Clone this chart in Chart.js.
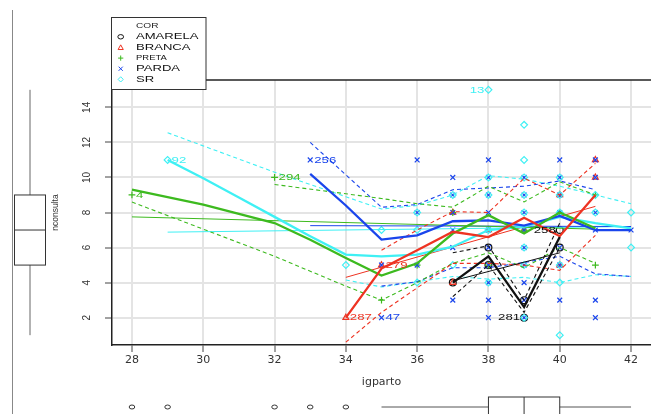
<!DOCTYPE html>
<html><head><meta charset="utf-8">
<script src="https://cdn.jsdelivr.net/npm/chart.js@4.4.1/dist/chart.umd.min.js"></script>
<style>html,body{margin:0;padding:0;background:#fff;overflow:hidden}canvas{display:block}</style>
</head><body>
<canvas id="c" width="651" height="414"></canvas>
<script>
// ---------- data ----------
const groups = ['AMARELA', 'BRANCA', 'PRETA', 'PARDA', 'SR'];
const xTicks = [28, 30, 32, 34, 36, 38, 40, 42];
const yTicks = [2, 4, 6, 8, 10, 12, 14];

// observed points (igparto, nconsulta)
const amarelaX = [37, 38, 38, 39, 39, 40, 40];
const amarelaY = [4, 5, 6, 2, 3, 6, 7];
const brancaX = [34, 35, 37, 37, 38, 39, 40, 40, 41, 41];
const brancaY = [2, 5, 8, 4, 7, 7, 9, 5, 11, 10];
const pretaX = [28, 32, 35, 36, 37, 38, 39, 40, 41, 41];
const pretaY = [9, 10, 3, 5, 8, 5, 7, 8, 9, 5];
const pardaX = [33, 35, 35, 36, 36, 36, 37, 37, 37, 37, 37, 37, 38, 38, 38, 38, 38, 38, 38, 38, 38, 38, 39, 39, 39, 39, 39, 39, 39, 39, 39, 40, 40, 40, 40, 40, 40, 40, 41, 41, 41, 41, 41, 41, 42];
const pardaY = [11, 2, 5, 11, 8, 5, 10, 9, 8, 7, 6, 3, 11, 10, 9, 8, 7, 6, 5, 4, 3, 2, 10, 9, 8, 7, 6, 5, 4, 3, 2, 11, 10, 9, 8, 6, 5, 3, 11, 10, 8, 7, 3, 2, 7];
const srX = [29, 34, 35, 36, 36, 36, 37, 37, 38, 38, 38, 38, 38, 39, 39, 39, 39, 39, 39, 39, 39, 40, 40, 40, 40, 40, 40, 41, 41, 42, 42];
const srY = [11, 5, 7, 8, 7, 4, 9, 5, 15, 10, 9, 7, 4, 13, 11, 10, 9, 8, 6, 5, 2, 10, 9, 8, 5, 4, 1, 9, 8, 8, 6];

// smooth (loess) lines
const amarelaFitX = [37, 38, 39, 40];
const amarelaFitY = [4.0, 5.5, 2.6, 6.6];
const amarelaUpX = [37, 38, 39, 40];
const amarelaUpY = [5.7, 6.1, 3.0, 7.4];
const amarelaLoX = [37, 38, 39, 40];
const amarelaLoY = [3.2, 5.0, 2.3, 6.0];
const amarelaLmX = [37, 40];
const amarelaLmY = [4.1, 5.7];

const brancaFitX = [34, 34.5, 35, 36, 37, 38, 39, 40, 41];
const brancaFitY = [2.0, 3.4, 4.8, 5.85, 6.9, 6.6, 7.7, 6.65, 9.0];
const brancaUpX = [35, 36, 37, 38, 39, 40, 41];
const brancaUpY = [5.85, 7.0, 8.05, 8.0, 9.95, 9.0, 10.8];
const brancaLoX = [34, 35, 36, 37, 38, 39, 40, 41];
const brancaLoY = [0.6, 2.3, 3.7, 5.1, 5.1, 5.0, 4.7, 6.7];
const brancaLmX = [34, 41];
const brancaLmY = [4.3, 8.35];

const pretaFitX = [28, 30, 32, 33, 34, 35, 36, 37, 38, 39, 40, 41];
const pretaFitY = [9.3, 8.45, 7.4, 6.45, 5.4, 4.4, 5.1, 6.8, 7.85, 6.8, 8.0, 7.1];
const pretaUpX = [32, 35, 36, 37, 38, 39, 40, 41];
const pretaUpY = [9.6, 8.8, 8.5, 8.3, 9.5, 8.6, 9.75, 9.0];
const pretaLoX = [28, 32, 34, 35, 36, 37, 38, 39, 40, 41];
const pretaLoY = [8.6, 5.5, 3.8, 3.0, 4.0, 5.1, 5.7, 4.85, 6.0, 5.1];
const pretaLmX = [28, 41];
const pretaLmY = [7.75, 7.05];

const pardaFitX = [33, 34, 35, 36, 37, 38, 39, 40, 41, 42];
const pardaFitY = [10.2, 8.4, 6.45, 6.7, 7.5, 7.55, 7.25, 7.8, 7.0, 7.0];
const pardaUpX = [33, 35, 36, 37, 38, 39, 40, 41];
const pardaUpY = [12.0, 8.3, 8.45, 9.3, 9.4, 9.5, 9.8, 9.3];
const pardaLoX = [35, 36, 37, 38, 39, 40, 41, 42];
const pardaLoY = [3.8, 4.05, 4.85, 4.85, 5.15, 5.5, 4.5, 4.35];
const pardaLmX = [33, 42];
const pardaLmY = [7.25, 7.2];

const srFitX = [29, 30, 31, 32, 33, 34, 35, 36, 37, 38, 39, 40, 41, 42];
const srFitY = [11.0, 9.95, 8.85, 7.75, 6.65, 5.6, 5.5, 5.6, 6.05, 7.0, 7.2, 7.75, 7.4, 7.1];
const srUpX = [29, 32, 34, 35, 36, 37, 38, 39, 40, 41, 42];
const srUpY = [12.55, 10.3, 8.9, 8.2, 8.4, 9.0, 10.1, 9.9, 9.5, 9.0, 8.5];
const srLoX = [34, 35, 36, 37, 38, 39, 40, 41, 42];
const srLoY = [4.15, 3.75, 4.05, 4.35, 4.2, 4.3, 4.0, 4.45, 4.35];
const srLmX = [29, 42];
const srLmY = [6.88, 7.2];

// identified points
const labelText = ['4', '92', '294', '256', '287', '279', '47', '13', '281', '258'];
const labelX = [28, 29, 32, 33, 34, 35, 35, 38, 39, 40];
const labelY = [9, 11, 10, 11, 2, 5, 2, 15, 2, 7];
const labelGroup = [2, 4, 2, 3, 1, 1, 3, 4, 0, 0];

// marginal boxplots: [min, q1, median, q3, max]
const ncBox = [1, 5, 7, 9, 15];
const igBox = [35, 38, 39, 40, 42];
const igOutliers = [28, 29, 32, 33, 34];

// ---------- styling ----------
const colors = ['#111111', '#ee3322', '#3dba1f', '#1a45ec', '#3ff0f4'];
const shapes = ['circle', 'triangle', 'cross', 'crossRot', 'rectRot'];
const pointSets = [[amarelaX, amarelaY], [brancaX, brancaY], [pretaX, pretaY], [pardaX, pardaY], [srX, srY]];
const fitSets = [[amarelaFitX, amarelaFitY], [brancaFitX, brancaFitY], [pretaFitX, pretaFitY], [pardaFitX, pardaFitY], [srFitX, srFitY]];
const upSets = [[amarelaUpX, amarelaUpY], [brancaUpX, brancaUpY], [pretaUpX, pretaUpY], [pardaUpX, pardaUpY], [srUpX, srUpY]];
const loSets = [[amarelaLoX, amarelaLoY], [brancaLoX, brancaLoY], [pretaLoX, pretaLoY], [pardaLoX, pardaLoY], [srLoX, srLoY]];
const lmSets = [[amarelaLmX, amarelaLmY], [brancaLmX, brancaLmY], [pretaLmX, pretaLmY], [pardaLmX, pardaLmY], [srLmX, srLmY]];

const xy = (xs, ys) => xs.map((x, i) => ({x: x, y: ys[i]}));

const datasets = [];
groups.forEach((g, i) => {
  datasets.push({type: 'scatter', label: g, data: xy(pointSets[i][0], pointSets[i][1]),
    pointStyle: shapes[i], pointRadius: 3.4, pointBorderWidth: 1.2,
    pointBorderColor: colors[i], pointBackgroundColor: 'rgba(0,0,0,0)', showLine: false, order: 20 - i});
});
groups.forEach((g, i) => {
  const base = {type: 'line', borderColor: colors[i], pointRadius: 0, fill: false, tension: 0, order: 2};
  datasets.push(Object.assign({}, base, {label: g + ' lm', data: xy(lmSets[i][0], lmSets[i][1]), borderWidth: 1}));
  datasets.push(Object.assign({}, base, {label: g + ' up', data: xy(upSets[i][0], upSets[i][1]), borderWidth: 1.1, borderDash: [4, 3]}));
  datasets.push(Object.assign({}, base, {label: g + ' lo', data: xy(loSets[i][0], loSets[i][1]), borderWidth: 1.1, borderDash: [4, 3]}));
  datasets.push(Object.assign({}, base, {label: g + ' fit', data: xy(fitSets[i][0], fitSets[i][1]), borderWidth: 2.3, order: 1}));
});

function mark(ctx, shape, px, py, r) {
  ctx.beginPath();
  if (shape === 'circle') {
    ctx.ellipse(px, py, r * 1.1, r * 0.85, 0, 0, Math.PI * 2);
  } else if (shape === 'triangle') {
    ctx.moveTo(px, py - r); ctx.lineTo(px + r, py + r * 0.8); ctx.lineTo(px - r, py + r * 0.8); ctx.closePath();
  } else if (shape === 'cross') {
    ctx.moveTo(px - r, py); ctx.lineTo(px + r, py); ctx.moveTo(px, py - r); ctx.lineTo(px, py + r);
  } else if (shape === 'crossRot') {
    ctx.moveTo(px - r * 0.8, py - r * 0.8); ctx.lineTo(px + r * 0.8, py + r * 0.8);
    ctx.moveTo(px - r * 0.8, py + r * 0.8); ctx.lineTo(px + r * 0.8, py - r * 0.8);
  } else {
    ctx.moveTo(px, py - r); ctx.lineTo(px + r, py); ctx.lineTo(px, py + r); ctx.lineTo(px - r, py); ctx.closePath();
  }
  ctx.stroke();
}

function stretchedText(ctx, text, px, py, size, align, color) {
  ctx.save();
  ctx.translate(px, py);
  ctx.scale(1.35, 1);
  ctx.font = size + 'px "Liberation Sans", Arimo, Arial, sans-serif';
  ctx.textAlign = align;
  ctx.textBaseline = 'middle';
  ctx.fillStyle = color;
  ctx.fillText(text, 0, 0);
  ctx.restore();
}

const extras = {
  id: 'extras',
  afterDraw(chart) {
    const ctx = chart.ctx;
    const a = chart.chartArea;
    const sx = chart.scales.x, sy = chart.scales.y;
    ctx.save();
    // top frame of plotting region
    ctx.strokeStyle = '#222'; ctx.lineWidth = 1.5;
    ctx.beginPath(); ctx.moveTo(a.left, a.top); ctx.lineTo(a.right, a.top); ctx.stroke();
    // outer frame line of the boxplot panel
    ctx.strokeStyle = '#888'; ctx.lineWidth = 1;
    ctx.beginPath(); ctx.moveTo(12.5, 10); ctx.lineTo(12.5, 414); ctx.stroke();

    // left boxplot (nconsulta)
    const cx = 30, hw = 15.5;
    const Y = v => sy.getPixelForValue(v);
    ctx.strokeStyle = '#666'; ctx.lineWidth = 1;
    ctx.beginPath();
    ctx.moveTo(cx, Y(ncBox[4])); ctx.lineTo(cx, Y(ncBox[3]));
    ctx.moveTo(cx, Y(ncBox[1])); ctx.lineTo(cx, Y(ncBox[0]));
    ctx.stroke();
    ctx.strokeStyle = '#333';
    ctx.strokeRect(cx - hw, Y(ncBox[3]), hw * 2, Y(ncBox[1]) - Y(ncBox[3]));
    ctx.beginPath(); ctx.moveTo(cx - hw, Y(ncBox[2])); ctx.lineTo(cx + hw, Y(ncBox[2])); ctx.stroke();

    // bottom boxplot (igparto)
    const cy = 407, hh = 10;
    const X = v => sx.getPixelForValue(v);
    ctx.strokeStyle = '#555';
    ctx.beginPath();
    ctx.moveTo(X(igBox[0]), cy); ctx.lineTo(X(igBox[1]), cy);
    ctx.moveTo(X(igBox[3]), cy); ctx.lineTo(X(igBox[4]), cy);
    ctx.stroke();
    ctx.strokeStyle = '#333';
    ctx.strokeRect(X(igBox[1]), cy - hh, X(igBox[3]) - X(igBox[1]), hh * 2);
    ctx.beginPath(); ctx.moveTo(X(igBox[2]), cy - hh); ctx.lineTo(X(igBox[2]), cy + hh); ctx.stroke();
    ctx.strokeStyle = '#333'; ctx.lineWidth = 1;
    igOutliers.forEach(v => { ctx.beginPath(); ctx.ellipse(X(v), cy, 2.8, 2.0, 0, 0, Math.PI * 2); ctx.stroke(); });

    // identified point labels
    labelText.forEach((t, i) => {
      const px = X(labelX[i]), py = Y(labelY[i]);
      const left = labelX[i] > 36;
      stretchedText(ctx, t, left ? px - 4 : px + 4, py, 9.8, left ? 'right' : 'left', colors[labelGroup[i]]);
    });

    // legend
    ctx.fillStyle = '#fff'; ctx.strokeStyle = '#333'; ctx.lineWidth = 1;
    ctx.fillRect(111.5, 17.5, 94.5, 72);
    ctx.strokeRect(111.5, 17.5, 94.5, 72);
    stretchedText(ctx, 'COR', 136, 25.5, 7.5, 'left', '#222');
    groups.forEach((g, i) => {
      const ly = 36.8 + i * 10.65;
      ctx.strokeStyle = colors[i]; ctx.lineWidth = 1;
      mark(ctx, shapes[i], 120.7, ly, 2.6);
      stretchedText(ctx, g, 136, ly, g === 'PRETA' ? 7 : 9.7, 'left', '#111');
    });
    ctx.restore();
  }
};

new Chart(document.getElementById('c'), {
  type: 'scatter',
  data: {datasets: datasets},
  options: {
    responsive: false, animation: false, devicePixelRatio: 1,
    layout: {autoPadding: false, padding: {left: 0, right: 0, top: 80, bottom: 0}},
    plugins: {legend: {display: false}, tooltip: {enabled: false}},
    scales: {
      x: {
        type: 'linear', min: 27.44, max: 42.56,
        afterBuildTicks: s => { s.ticks = xTicks.map(v => ({value: v})); },
        afterFit: s => { s.height = 69; s.paddingLeft = 0; s.paddingRight = 0; },
        grid: {color: '#e4e4e4', lineWidth: 2, tickLength: 7, tickColor: '#444', tickWidth: 1},
        border: {display: true, color: '#222', width: 1.5},
        ticks: {font: {family: 'DejaVu Sans', size: 11}, color: '#333', padding: 2, maxRotation: 0, autoSkip: false},
        title: {display: true, text: 'igparto', font: {family: 'DejaVu Sans', size: 11}, color: '#333', padding: {top: 0, bottom: 25}}
      },
      y: {
        type: 'linear', min: 0.44, max: 15.56,
        afterBuildTicks: s => { s.ticks = yTicks.map(v => ({value: v})); },
        afterFit: s => { s.width = 112; s.paddingTop = 0; s.paddingBottom = 0; },
        grid: {color: '#e4e4e4', lineWidth: 2, tickLength: 7, tickColor: '#444', tickWidth: 1},
        border: {display: true, color: '#222', width: 1.5},
        ticks: {font: {family: 'Liberation Sans', size: 10}, color: '#333', minRotation: 90, maxRotation: 90, crossAlign: 'center', padding: 12, autoSkip: false},
        title: {display: true, text: 'nconsulta', font: {family: 'Liberation Sans', size: 8.5}, color: '#333', padding: {top: 51, bottom: 0}}
      }
    }
  },
  plugins: [extras]
});
</script>
</body></html>
